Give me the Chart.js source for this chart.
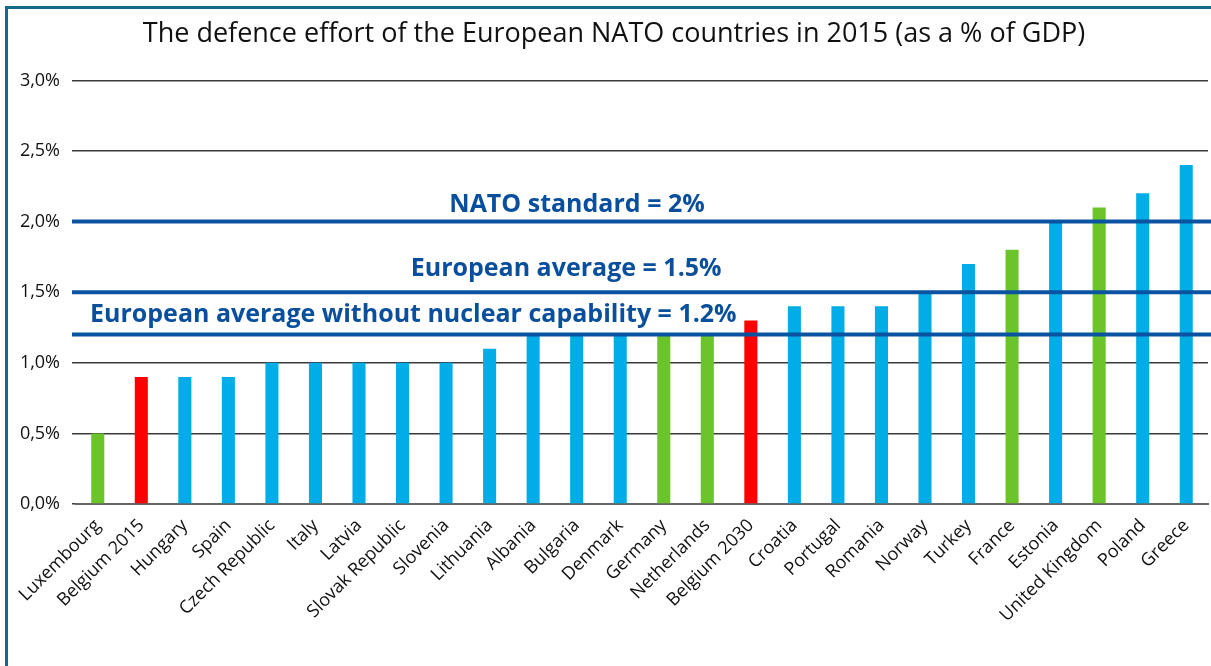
<!DOCTYPE html>
<html>
<head>
<meta charset="utf-8">
<script src="https://cdn.jsdelivr.net/npm/chart.js@4.4.0/dist/chart.umd.min.js"></script>
<style>
html, body { margin: 0; padding: 0; background: #fff; overflow: hidden; }
#wrap { position: relative; width: 1211px; height: 666px; }
#frame { position: absolute; left: 5px; top: 6px; width: 1300px; height: 800px;
         border-left: 3px solid #17698a; border-top: 3px solid #17698a; }
canvas { position: absolute; left: 0; top: 0; }
</style>
</head>
<body>
<div id="wrap"><div id="frame"></div><canvas id="chart"></canvas></div>
<script>
// données
const countries = ['Luxembourg', 'Belgium 2015', 'Hungary', 'Spain', 'Czech Republic', 'Italy', 'Latvia',
    'Slovak Republic', 'Slovenia', 'Lithuania', 'Albania', 'Bulgaria', 'Denmark', 'Germany', 'Netherlands',
    'Belgium 2030', 'Croatia', 'Portugal', 'Romania', 'Norway', 'Turkey', 'France', 'Estonia',
    'United Kingdom', 'Poland', 'Greece'];
const effort = [0.5, 0.9, 0.9, 0.9, 1.0, 1.0, 1.0, 1.0, 1.0, 1.1, 1.2, 1.2, 1.2, 1.2, 1.2,
    1.3, 1.4, 1.4, 1.4, 1.5, 1.7, 1.8, 2.0, 2.1, 2.2, 2.4];
const greenCountries = ['Luxembourg', 'Germany', 'Netherlands', 'France', 'United Kingdom'];
const redCountries = ['Belgium 2015', 'Belgium 2030'];
const yTicks = [0, 0.5, 1.0, 1.5, 2.0, 2.5, 3.0];
const refValues = [2.0, 1.5, 1.2];
const refLabels = ['NATO standard = 2%', 'European average = 1.5%',
    'European average without nuclear capability = 1.2%'];

const barColors = countries.map(c => greenCountries.includes(c) ? '#6cc42b'
    : redCountries.includes(c) ? '#ff0000' : '#00ade6');

// lignes de référence
const refLinesPlugin = {
    id: 'refLines',
    afterDatasetsDraw(chart, args, opts) {
        const ctx = chart.ctx;
        const y = chart.scales.y;
        const area = chart.chartArea;
        ctx.save();
        refValues.forEach((v, i) => {
            const py = y.getPixelForValue(v);
            ctx.strokeStyle = '#0a53a1';
            ctx.lineWidth = 4;
            ctx.beginPath();
            ctx.moveTo(area.left - 4, py);
            ctx.lineTo(chart.width, py);
            ctx.stroke();
            ctx.fillStyle = '#0a4f9c';
            ctx.font = 'bold ' + opts.fontSize + 'px "Open Sans"';
            ctx.textAlign = 'center';
            ctx.textBaseline = 'alphabetic';
            const px = area.left + area.width * opts.labelX[i];
            ctx.fillText(refLabels[i], px, py - opts.labelGap[i]);
        });
        ctx.restore();
    }
};

const canvas = document.getElementById('chart');
canvas.width = 1211;
canvas.height = 666;

new Chart(canvas.getContext('2d'), {
    type: 'bar',
    data: {
        labels: countries,
        datasets: [{
            data: effort,
            backgroundColor: barColors,
            barPercentage: 0.3,
            categoryPercentage: 1.0
        }]
    },
    options: {
        responsive: false,
        animation: false,
        layout: { padding: { right: 3, left: 20, bottom: 0 } },
        plugins: {
            legend: { display: false },
            tooltip: { enabled: false },
            title: {
                display: true,
                text: 'The defence effort of the European NATO countries in 2015 (as a % of GDP)',
                color: '#111',
                font: { family: 'Open Sans', size: 27, weight: 'normal' },
                padding: { top: 18, bottom: 30 }
            },
            refLines: { fontSize: 25, labelX: [0.4426, 0.433, 0.298], labelGap: [10, 16, 13] }
        },
        scales: {
            x: {
                grid: { display: false },
                border: { display: true, color: '#666', width: 2 },
                ticks: {
                    color: '#111',
                    autoSkip: false,
                    minRotation: 45,
                    maxRotation: 45,
                    font: { family: 'Open Sans', size: 18 }
                },
                afterFit: s => { s.height = 162; }
            },
            y: {
                min: 0,
                max: 3,
                border: { display: false },
                grid: { color: '#3a3a3a', lineWidth: 1.5, tickLength: 4 },
                ticks: {
                    color: '#111',
                    padding: 12,
                    font: { family: 'Open Sans', size: 18 },
                    callback: v => v.toFixed(1).replace('.', ',') + '%'
                },
                afterBuildTicks: s => { s.ticks = yTicks.map(v => ({ value: v })); },
                afterFit: s => { s.width = 56; }
            }
        }
    },
    plugins: [refLinesPlugin]
});
</script>
</body>
</html>
